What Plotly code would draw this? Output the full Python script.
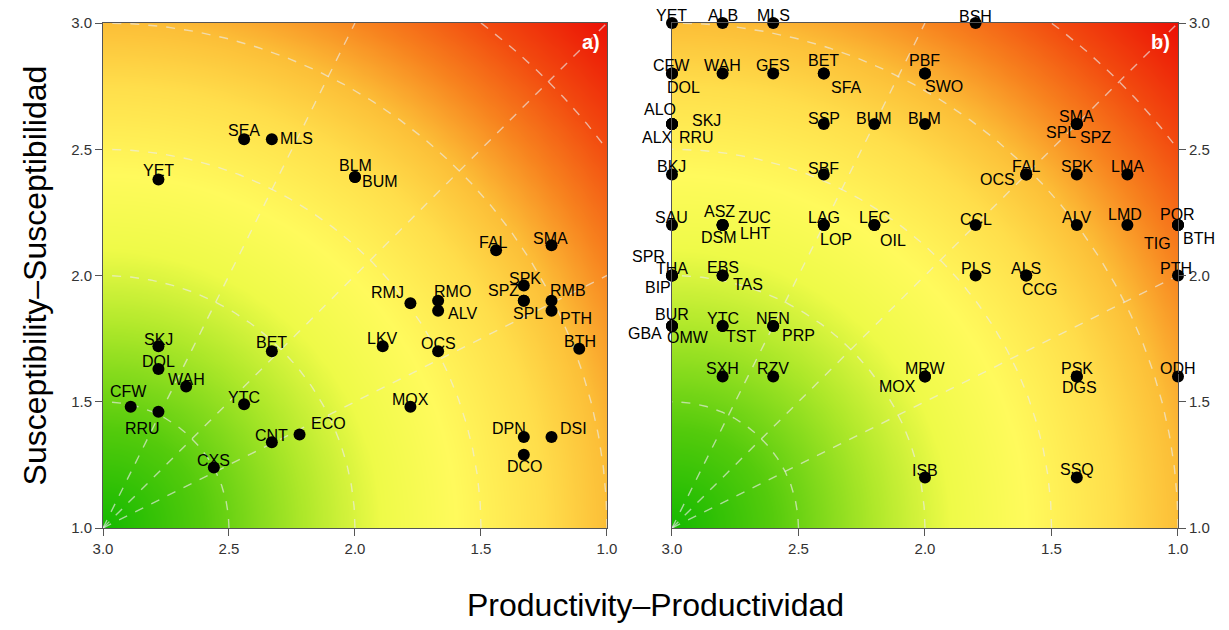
import numpy as np
import plotly.graph_objects as go

# ---------------- data ----------------
# panel a)
a_species = ["YET","SEA","MLS","BLM","BUM","FAL","SMA","SPK","SPZ","SPL","RMB","PTH","BTH",
             "RMJ","RMO","ALV","LKV","OCS","MOX","DPN","DSI","DCO","SKJ","DOL","WAH","CFW",
             "RRU","YTC","BET","CNT","ECO","CXS"]
a_productivity = [2.78,2.44,2.33,2.00,2.00,1.44,1.22,1.33,1.33,1.33,1.22,1.22,1.11,
                  1.78,1.67,1.67,1.89,1.67,1.78,1.33,1.22,1.33,2.78,2.78,2.67,2.89,
                  2.78,2.44,2.33,2.33,2.22,2.56]
a_susceptibility = [2.38,2.54,2.54,2.39,2.39,2.10,2.12,1.96,1.90,1.90,1.90,1.86,1.71,
                    1.89,1.90,1.86,1.72,1.70,1.48,1.36,1.36,1.29,1.72,1.63,1.56,1.48,
                    1.46,1.49,1.70,1.34,1.37,1.24]

# panel b)
b_species = ["YET","ALB","MLS","BSH",
             "CFW","DOL","WAH","GES","BET","SFA","PBF","SWO",
             "ALO","SKJ","ALX","RRU","SSP","BUM","BLM","SMA","SPL","SPZ",
             "BKJ","SBF","FAL","OCS","SPK","LMA",
             "SAU","ASZ","ZUC","DSM","LHT","LAG","LOP","LEC","OIL","CCL","ALV","LMD","POR","TIG","BTH",
             "SPR","THA","BIP","EBS","TAS","PLS","ALS","CCG","PTH",
             "BUR","GBA","OMW","YTC","TST","NEN","PRP",
             "SXH","RZV","MRW","MOX","PSK","DGS","ODH",
             "ISB","SSQ"]
b_productivity = [3.0,2.8,2.6,1.8,
                  3.0,3.0,2.8,2.6,2.4,2.4,2.0,2.0,
                  3.0,3.0,3.0,3.0,2.4,2.2,2.0,1.4,1.4,1.4,
                  3.0,2.4,1.6,1.6,1.4,1.2,
                  3.0,2.8,2.8,2.8,2.8,2.4,2.4,2.2,2.2,1.8,1.4,1.2,1.0,1.0,1.0,
                  3.0,3.0,3.0,2.8,2.8,1.8,1.6,1.6,1.0,
                  3.0,3.0,3.0,2.8,2.8,2.6,2.6,
                  2.8,2.6,2.0,2.0,1.4,1.4,1.0,
                  2.0,1.4]
b_susceptibility = [3.0,3.0,3.0,3.0,
                    2.8,2.8,2.8,2.8,2.8,2.8,2.8,2.8,
                    2.6,2.6,2.6,2.6,2.6,2.6,2.6,2.6,2.6,2.6,
                    2.4,2.4,2.4,2.4,2.4,2.4,
                    2.2,2.2,2.2,2.2,2.2,2.2,2.2,2.2,2.2,2.2,2.2,2.2,2.2,2.2,2.2,
                    2.0,2.0,2.0,2.0,2.0,2.0,2.0,2.0,2.0,
                    1.8,1.8,1.8,1.8,1.8,1.8,1.8,
                    1.6,1.6,1.6,1.6,1.6,1.6,1.6,
                    1.2,1.2]

tick_vals = [1.0, 1.5, 2.0, 2.5, 3.0]
tick_text = ["1.0", "1.5", "2.0", "2.5", "3.0"]
x_title = "Productivity\u2013Productividad"
y_title = "Susceptibility\u2013Susceptibilidad"
panel_labels = ["a)", "b)"]

# ---------------- label placement (style) ----------------
# (anchor, dx px, dy px (down positive))
a_label_style = [("c",0,-9),("c",0,-9),("l",6,-1),("c",1,-12),("l",5,4),("c",-3,-8),("c",-1,-7),
                 ("c",1,-7),("r",-3,-10),("c",4,13),("l",-4,-10),("l",6,8),("c",1,-7),
                 ("r",-4,-11),("l",-6,-9),("l",8,3),("c",0,-8),("c",0,-8),("c",0,-7),("r",4,-9),
                 ("l",6,-9),("c",1,12),("c",0,-7),("c",0,-7),("c",0,-7),("c",-2,-15),
                 ("c",-16,17),("c",0,-7),("c",0,-9),("c",0,-7),("l",9,-11),("c",0,-7)]
b_label_style = [("c",0,-8),("c",0,-8),("c",0,-8),("c",0,-7),
                 ("c",0,-8),("l",-7,14),("c",0,-8),("c",0,-8),("c",0,-13),("l",5,14),("c",0,-13),("l",-2,13),
                 ("c",-12,-15),("l",18,-4),("r",3,13),("l",5,13),("c",0,-6),("c",0,-6),("c",0,-6),("c",0,-8),("r",1,8),("l",1,13),
                 ("c",0,-8),("c",0,-6),("c",0,-8),("r",-9,5),("c",0,-8),("c",0,-8),
                 ("c",0,-8),("c",-3,-14),("l",13,-8),("c",-4,12),("l",15,8),("c",0,-8),("l",-6,14),("c",0,-8),("l",4,15),
                 ("c",0,-6),("c",0,-8),("c",-2,-11),("c",0,-11),("r",-5,18),("l",3,13),
                 ("r",-5,-19),("c",0,-7),("r",1,12),("c",0,-8),("l",8,9),("c",0,-7),("c",0,-7),("l",-6,14),("c",-2,-7),
                 ("c",0,-12),("r",-8,7),("l",-7,11),("c",0,-8),("l",1,10),("c",0,-8),("l",7,9),
                 ("c",0,-8),("c",0,-8),("c",1,-8),("r",-7,10),("c",0,-8),("c",3,11),("c",0,-8),
                 ("c",0,-7),("c",0,-8)]

FONT = "Liberation Sans, Arial, sans-serif"

fig = go.Figure()

# background vulnerability surface (distance from the low-risk corner)
gx = np.linspace(1, 3, 161)
gy = np.linspace(1, 3, 161)
GX, GY = np.meshgrid(gx, gy)
GZ = np.sqrt((3 - GX) ** 2 + (GY - 1) ** 2)
cscale = [[0.0, "rgb(20,185,0)"], [0.141, "rgb(85,203,12)"], [0.283, "rgb(175,232,42)"],
          [0.389, "rgb(238,250,72)"], [0.495, "rgb(255,250,92)"], [0.619, "rgb(255,222,75)"],
          [0.707, "rgb(252,190,55)"], [0.796, "rgb(247,130,30)"], [0.884, "rgb(242,75,15)"],
          [1.0, "rgb(235,15,5)"]]

for xa, ya in [("x", "y"), ("x2", "y2")]:
    fig.add_trace(go.Heatmap(x=gx, y=gy, z=GZ, colorscale=cscale, zmin=0, zmax=np.sqrt(8),
                             zsmooth="best", showscale=False, hoverinfo="skip", xaxis=xa, yaxis=ya))
    th = np.linspace(0, np.pi / 2, 200)
    for r in [0.5, 1.0, 1.5, 2.0, 2.5]:
        fig.add_trace(go.Scatter(x=3 - r * np.cos(th), y=1 + r * np.sin(th), mode="lines",
                                 line=dict(color="rgba(235,235,235,0.65)", width=1.4, dash="dash"),
                                 hoverinfo="skip", showlegend=False, xaxis=xa, yaxis=ya))
    for ex, ey in [(2.0, 3.0), (1.0, 3.0), (1.0, 2.0)]:
        fig.add_trace(go.Scatter(x=[3, ex], y=[1, ey], mode="lines",
                                 line=dict(color="rgba(235,235,235,0.65)", width=1.4, dash="dash"),
                                 hoverinfo="skip", showlegend=False, xaxis=xa, yaxis=ya))

fig.add_trace(go.Scatter(x=a_productivity, y=a_susceptibility, mode="markers",
                         marker=dict(color="black", size=12), cliponaxis=False,
                         showlegend=False, xaxis="x", yaxis="y"))
fig.add_trace(go.Scatter(x=b_productivity, y=b_susceptibility, mode="markers",
                         marker=dict(color="black", size=12), cliponaxis=False,
                         showlegend=False, xaxis="x2", yaxis="y2"))

anns = []
anchor_map = {"c": "center", "l": "left", "r": "right"}
for sp, px, sy, st, xr, yr in ([(s, p, q, t, "x", "y") for s, p, q, t in
                                 zip(a_species, a_productivity, a_susceptibility, a_label_style)] +
                                [(s, p, q, t, "x2", "y2") for s, p, q, t in
                                 zip(b_species, b_productivity, b_susceptibility, b_label_style)]):
    anc, dx, dy = st
    anns.append(dict(x=px, y=sy, xref=xr, yref=yr, text=sp, showarrow=False,
                     xanchor=anchor_map[anc], yanchor="middle", xshift=dx, yshift=-dy,
                     font=dict(family=FONT, size=16, color="black")))

anns.append(dict(x=0.454, y=0.962, xref="paper", yref="paper", text="<b>" + panel_labels[0] + "</b>",
                 xanchor="center", yanchor="middle",
                 showarrow=False, font=dict(family=FONT, size=20, color="white")))
anns.append(dict(x=0.984, y=0.962, xref="paper", yref="paper", text="<b>" + panel_labels[1] + "</b>",
                 xanchor="center", yanchor="middle",
                 showarrow=False, font=dict(family=FONT, size=20, color="white")))
anns.append(dict(x=-0.0633, y=0.50, xref="paper", yref="paper", text=y_title, textangle=-90,
                 xanchor="center", yanchor="middle",
                 showarrow=False, font=dict(family=FONT, size=32, color="black")))
anns.append(dict(x=0.5135, y=-0.1525, xref="paper", yref="paper", text=x_title,
                 xanchor="center", yanchor="middle",
                 showarrow=False, font=dict(family=FONT, size=32, color="black")))

axis_common = dict(showgrid=False, zeroline=False, showline=True, mirror=True, linecolor="#555",
                   linewidth=1, ticks="outside", ticklen=7, tickcolor="#555",
                   tickvals=tick_vals, ticktext=tick_text,
                   tickfont=dict(family=FONT, size=15, color="#333"))

fig.update_layout(
    width=1229, height=630,
    margin=dict(l=103, r=51, t=23, b=102),
    paper_bgcolor="white", plot_bgcolor="white",
    xaxis=dict(domain=[0, 0.4688], range=[3, 1], anchor="y", **axis_common),
    yaxis=dict(domain=[0, 1], range=[1, 3], anchor="x", **axis_common),
    xaxis2=dict(domain=[0.5293, 1], range=[3, 1], anchor="y2", **axis_common),
    yaxis2=dict(domain=[0, 1], range=[1, 3], anchor="x2", side="right", **axis_common),
    annotations=anns,
    showlegend=False,
)

fig.write_html("out.html", config={"displayModeBar": False},
               post_script="document.body.style.margin='0';document.body.style.overflow='hidden';")
